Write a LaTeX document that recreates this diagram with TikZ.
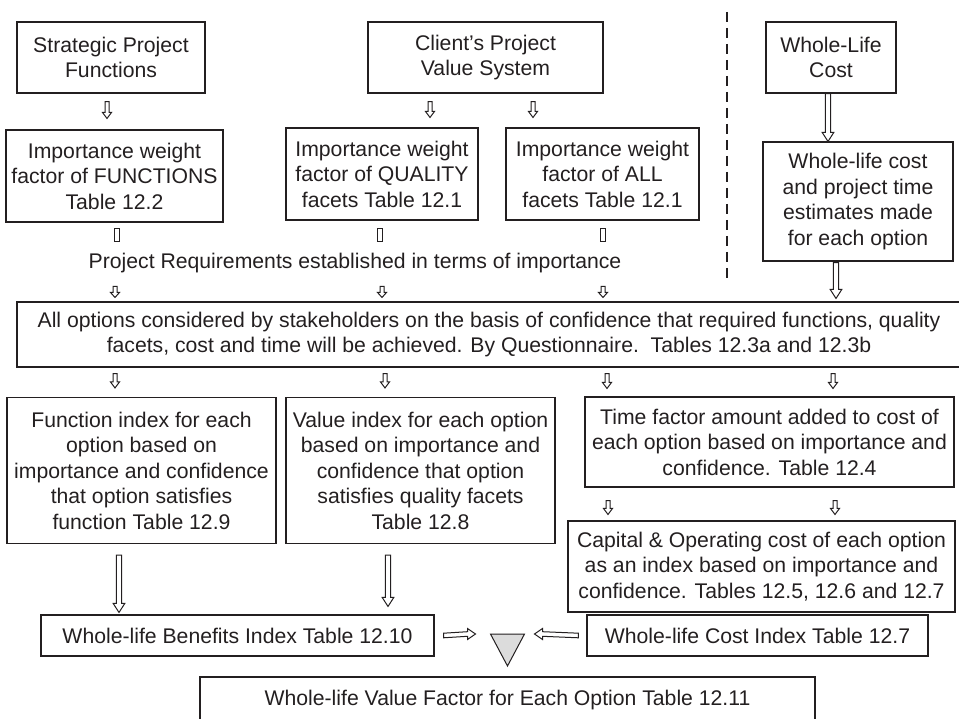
\documentclass[tikz,border=0pt]{standalone}
\usepackage{fontspec}
\setmainfont{Liberation Sans}
\usetikzlibrary{calc}
\definecolor{ink}{HTML}{231F20}
\definecolor{trifill}{HTML}{DCDCDC}

% size of the hollow arrows: shaft half width, head half width, head length
\newcommand\arrowsize[3]{\def\aw{#1}\def\ahw{#2}\def\ah{#3}}
% hollow (outlined) arrow from #1 to #2, direction #3, normal #4
\newcommand\hollowarrow[4]{%
  \draw[hollow] ($#1+\aw*#4$) -- ($#2-\ah*#3+\aw*#4$) -- ($#2-\ah*#3+\ahw*#4$)
    -- #2 -- ($#2-\ah*#3-\ahw*#4$) -- ($#2-\ah*#3-\aw*#4$) -- ($#1-\aw*#4$) -- cycle;}
% short open shaft without head
\newcommand\stub[2]{%
  \draw[hollow] ($#1+(-2.5,0)$) rectangle ($#2+(2.5,0)$);}

\begin{document}
\begin{tikzpicture}[x=1pt,y=-1pt,
  every node/.style={text=ink,font=\fontsize{21.2}{25.5}\selectfont},
  box/.style={draw=ink,line width=1.1pt,align=center,inner sep=0pt},
  hollow/.style={draw=ink,line width=1pt,fill=white,line join=miter},
  divider/.style={draw=ink,line width=1.3pt,dash pattern=on 10pt off 6pt}]
\useasboundingbox (0,0) rectangle (959,719);
\clip (0,0) rectangle (959,719);

% top row
\node[box,minimum width=188pt,minimum height=71pt] (spf) at (111,57.5) {Strategic Project\\Functions};
\node[box,minimum width=235pt,minimum height=71pt] (cpvs) at (485.5,57.5) {Client’s Project\\Value System};
\node[box,minimum width=130pt,minimum height=71pt] (wlc) at (831,57.5) {Whole-Life\\Cost};

% importance weights and cost estimates
\node[box,minimum width=217pt,minimum height=92pt] (iwff) at (114.5,176) {Importance weight\\factor of FUNCTIONS\\Table 12.2};
\node[box,minimum width=192pt,minimum height=92pt] (iwfq) at (382,174) {Importance weight\\factor of QUALITY\\facets Table 12.1};
\node[box,minimum width=193pt,minimum height=92pt] (iwfa) at (602.5,174) {Importance weight\\factor of ALL\\facets Table 12.1};
\node[box,minimum width=190pt,minimum height=119pt] (wlce) at (858,201.5) {Whole-life cost\\and project time\\estimates made\\for each option};

\node[inner sep=0pt] (req) at (355,263) {Project Requirements established in terms of importance};

\node[box,minimum width=944pt,minimum height=65pt] (opts) at (489,334.5) {All options considered by stakeholders on the basis of confidence that required functions, quality\\facets, cost and time will be achieved. By Questionnaire.\ \ Tables 12.3a and 12.3b};

% indices
\node[box,minimum width=269pt,minimum height=146pt] (fi) at (141.5,470.5) {Function index for each\\option based on\\importance and confidence\\that option satisfies\\function Table 12.9};
\node[box,minimum width=269pt,minimum height=146pt] (vi) at (420.5,470.5) {Value index for each option\\based on importance and\\confidence that option\\satisfies quality facets\\Table 12.8};
\node[box,minimum width=369pt,minimum height=90pt] (tf) at (769.5,442) {Time factor amount added to cost of\\each option based on importance and\\confidence. Table 12.4};
\node[box,minimum width=387pt,minimum height=91pt] (cap) at (761.5,566.5) {Capital \& Operating cost of each option\\as an index based on importance and\\confidence. Tables 12.5, 12.6 and 12.7};

\node[box,minimum width=393pt,minimum height=41pt] (wlbi) at (237.5,635.5) {Whole-life Benefits Index Table 12.10};
\node[box,minimum width=341pt,minimum height=41pt] (wlci) at (757.5,635.5) {Whole-life Cost Index Table 12.7};
\node[box,minimum width=615pt,minimum height=46pt] (wlvf) at (507.5,700) {Whole-life Value Factor for Each Option Table 12.11};

% combining triangle
\coordinate (tl) at (490.5,634);
\coordinate (tr) at (524.5,634);
\coordinate (tb) at (507.5,666);
\draw[draw=ink,line width=1pt,fill=trifill,line join=miter] (tl) -- (tr) -- (tb) -- cycle;

% divider between benefits and cost columns
\coordinate (dvt) at (727,12);
\coordinate (dvb) at (727,283);
\draw[divider] (dvt) -- (dvb);

% short arrows from the top row
\arrowsize{2}{4.5}{6}
\coordinate (a1s) at ($(spf.south -| 107,0)+(0,8)$);
\coordinate (a1e) at ($(iwff.north -| 107,0)+(0,-11)$);
\hollowarrow{(a1s)}{(a1e)}{(0,1)}{(1,0)}
\coordinate (a2s) at ($(cpvs.south -| 430,0)+(0,8)$);
\coordinate (a2e) at ($(iwfq.north -| 430,0)+(0,-10)$);
\hollowarrow{(a2s)}{(a2e)}{(0,1)}{(1,0)}
\coordinate (a3s) at ($(cpvs.south -| 533,0)+(0,8)$);
\coordinate (a3e) at ($(iwfa.north -| 533,0)+(0,-10)$);
\hollowarrow{(a3s)}{(a3e)}{(0,1)}{(1,0)}

% arrows below the options box
\coordinate (b1s) at ($(opts.south -| 115,0)+(0,6)$);
\coordinate (b1e) at ($(fi.north -| 115,0)+(0,-9)$);
\hollowarrow{(b1s)}{(b1e)}{(0,1)}{(1,0)}
\coordinate (b2s) at ($(opts.south -| 385,0)+(0,6)$);
\coordinate (b2e) at ($(vi.north -| 385,0)+(0,-9)$);
\hollowarrow{(b2s)}{(b2e)}{(0,1)}{(1,0)}
\coordinate (b3s) at ($(opts.south -| 607,0)+(0,6)$);
\coordinate (b3e) at ($(tf.north -| 607,0)+(0,-8)$);
\hollowarrow{(b3s)}{(b3e)}{(0,1)}{(1,0)}
\coordinate (b4s) at ($(opts.south -| 833,0)+(0,6)$);
\coordinate (b4e) at ($(tf.north -| 833,0)+(0,-8)$);
\hollowarrow{(b4s)}{(b4e)}{(0,1)}{(1,0)}

% arrows from time factor to capital cost
\coordinate (c1s) at ($(tf.south -| 608,0)+(0,13)$);
\coordinate (c1e) at ($(cap.north -| 608,0)+(0,-6)$);
\hollowarrow{(c1s)}{(c1e)}{(0,1)}{(1,0)}
\coordinate (c2s) at ($(tf.south -| 835,0)+(0,13)$);
\coordinate (c2e) at ($(cap.north -| 835,0)+(0,-6)$);
\hollowarrow{(c2s)}{(c2e)}{(0,1)}{(1,0)}

% arrows into the options box
\arrowsize{2}{4.5}{5}
\coordinate (r1s) at ($(opts.north -| 115,0)+(0,-15)$);
\coordinate (r1e) at ($(opts.north -| 115,0)+(0,-4)$);
\hollowarrow{(r1s)}{(r1e)}{(0,1)}{(1,0)}
\coordinate (r2s) at ($(opts.north -| 382,0)+(0,-15)$);
\coordinate (r2e) at ($(opts.north -| 382,0)+(0,-4)$);
\hollowarrow{(r2s)}{(r2e)}{(0,1)}{(1,0)}
\coordinate (r3s) at ($(opts.north -| 603,0)+(0,-15)$);
\coordinate (r3e) at ($(opts.north -| 603,0)+(0,-4)$);
\hollowarrow{(r3s)}{(r3e)}{(0,1)}{(1,0)}

% stubs from the weight boxes
\coordinate (s1s) at ($(iwff.south -| 117,0)+(0,6)$);
\coordinate (s1e) at ($(iwff.south -| 117,0)+(0,19)$);
\stub{(s1s)}{(s1e)}
\coordinate (s2s) at ($(iwfq.south -| 380,0)+(0,8)$);
\coordinate (s2e) at ($(iwfq.south -| 380,0)+(0,21)$);
\stub{(s2s)}{(s2e)}
\coordinate (s3s) at ($(iwfa.south -| 603,0)+(0,8)$);
\coordinate (s3e) at ($(iwfa.south -| 603,0)+(0,21)$);
\stub{(s3s)}{(s3e)}

% long arrows
\arrowsize{2.6}{5.8}{9}
\coordinate (l1s) at (wlc.south -| 828,0);
\coordinate (l1e) at (wlce.north -| 828,0);
\hollowarrow{(l1s)}{(l1e)}{(0,1)}{(1,0)}
\coordinate (l2s) at ($(wlce.south -| 836,0)+(0,1)$);
\coordinate (l2e) at ($(opts.north -| 836,0)+(0,-3)$);
\hollowarrow{(l2s)}{(l2e)}{(0,1)}{(1,0)}
\coordinate (l3s) at ($(fi.south -| 119,0)+(0,11)$);
\coordinate (l3e) at ($(wlbi.north -| 119,0)+(0,-2)$);
\hollowarrow{(l3s)}{(l3e)}{(0,1)}{(1,0)}
\coordinate (l4s) at ($(vi.south -| 388,0)+(0,11)$);
\coordinate (l4e) at ($(wlbi.north -| 388,0)+(0,-8)$);
\hollowarrow{(l4s)}{(l4e)}{(0,1)}{(1,0)}

% horizontal arrows into the triangle
\arrowsize{2.3}{5.5}{8}
\coordinate (h1s) at ($(wlbi.east)+(9,0)$);
\coordinate (h1e) at ($(tl)+(-15,0)$);
\hollowarrow{(h1s)}{(h1e)}{(1,0)}{(0,1)}
\coordinate (h2s) at ($(wlci.west)+(-8,0)$);
\coordinate (h2e) at ($(tr)+(10,0)$);
\hollowarrow{(h2s)}{(h2e)}{(-1,0)}{(0,1)}
\end{tikzpicture}
\end{document}
